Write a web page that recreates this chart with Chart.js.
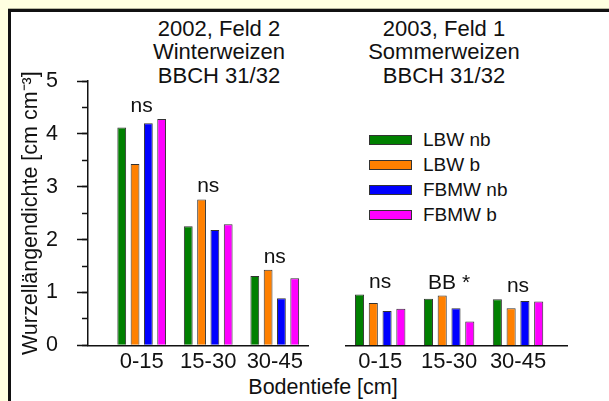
<!DOCTYPE html>
<html>
<head>
<meta charset="utf-8">
<script src="https://cdn.jsdelivr.net/npm/chart.js@4/dist/chart.umd.min.js"></script>
<style>
  html, body { margin: 0; padding: 0; background: #ffffe0; }
  body { width: 609px; height: 401px; overflow: hidden; position: relative;
         font-family: Arial, "Liberation Sans", sans-serif; color: #111; }
  #panel { position: absolute; left: 8px; top: 9px; width: 640px; height: 430px;
           background: #fff; border-left: 3px solid #111; border-top: 3px solid #111;
           box-shadow: 0 -1px 0 #b8b8a0; }
  canvas { position: absolute; left: 0; top: 0; }
  .head { position: absolute; width: 220px; text-align: center; font-size: 22px; line-height: 23.3px; }
  #xtitle { position: absolute; left: 213px; top: 375px; width: 220px; text-align: center;
            font-size: 21.5px; line-height: 24px; }
  #legend { position: absolute; left: 369px; top: 127px; font-size: 19px; }
  #legend .row { display: flex; align-items: center; height: 25px; }
  #legend .box { width: 41px; height: 8px; border: 1px solid #333; margin-right: 11px; }
</style>
</head>
<body>
<div id="panel"></div>
<div class="head" style="left:109px; top:17px">2002, Feld 2<br>Winterweizen<br>BBCH 31/32</div>
<div class="head" style="left:334px; top:17px">2003, Feld 1<br>Sommerweizen<br>BBCH 31/32</div>
<div id="xtitle">Bodentiefe [cm]</div>
<div id="legend"></div>
<canvas id="left" width="609" height="401"></canvas>
<canvas id="right" width="609" height="401"></canvas>
<script>
// soil depth classes (x categories)
const depths = ['0-15', '15-30', '30-45'];
const seriesNames = ['LBW nb', 'LBW b', 'FBMW nb', 'FBMW b'];

// root length density [cm cm-3], 2002 Feld 2, Winterweizen
const lbwNb2002 = [4.12, 2.25, 1.31];
const lbwB2002 = [3.43, 2.76, 1.43];
const fbmwNb2002 = [4.20, 2.18, 0.89];
const fbmwB2002 = [4.28, 2.29, 1.27];

// 2003 Feld 1, Sommerweizen
const lbwNb2003 = [0.96, 0.88, 0.87];
const lbwB2003 = [0.80, 0.94, 0.70];
const fbmwNb2003 = [0.65, 0.70, 0.84];
const fbmwB2003 = [0.69, 0.45, 0.83];

// significance marks above each depth group
const sig2002 = ['ns', 'ns', 'ns'];
const sig2003 = ['ns', 'BB *', 'ns'];

const colors = ['#008000', '#ff8000', '#0000ff', '#ff00ff'];
const FONT = 'Arial, "Liberation Sans", sans-serif';

Chart.defaults.font.family = FONT;
Chart.defaults.color = '#111';

function datasets(series) {
  return series.map((vals, s) => ({
    label: seriesNames[s],
    data: vals.map((v, i) => ({ x: i + 1, y: v })),
    backgroundColor: colors[s],
    borderColor: '#333',
    borderWidth: 1,
    categoryPercentage: 0.8,
    barPercentage: 0.66
  }));
}

// writes the significance text over the tallest bar of each group
const sigLabels = {
  id: 'sigLabels',
  afterDatasetsDraw(chart, args, opts) {
    const ctx = chart.ctx;
    const xs = chart.scales.x;
    ctx.save();
    ctx.font = '21px ' + FONT;
    ctx.fillStyle = '#111';
    ctx.textAlign = 'center';
    ctx.textBaseline = 'alphabetic';
    opts.labels.forEach((txt, i) => {
      let top = Infinity;
      chart.data.datasets.forEach((ds, d) => {
        const bar = chart.getDatasetMeta(d).data[i];
        if (bar) top = Math.min(top, bar.y);
      });
      ctx.fillText(txt, xs.getPixelForValue(i + 1), top - 7);
    });
    ctx.restore();
  }
};

function xAxis(min, max) {
  return {
    type: 'linear',
    min: min,
    max: max,
    offset: false,
    grid: { display: false, drawTicks: false },
    border: { display: true, color: '#111', width: 1.5 },
    afterBuildTicks: (scale) => { scale.ticks = depths.map((_, i) => ({ value: i + 1 })); },
    afterFit: (scale) => { scale.height = 30; },
    ticks: {
      padding: 3,
      font: { size: 22 },
      callback: (v) => depths[v - 1]
    }
  };
}

new Chart(document.getElementById('left'), {
  type: 'bar',
  data: { datasets: datasets([lbwNb2002, lbwB2002, fbmwNb2002, fbmwB2002]) },
  plugins: [sigLabels],
  options: {
    responsive: false,
    animation: false,
    layout: { padding: { left: 0, right: 300.3, top: 81, bottom: 25.7 } },
    plugins: {
      legend: { display: false },
      tooltip: { enabled: false },
      sigLabels: { labels: sig2002 }
    },
    scales: {
      x: xAxis(0.193, 3.51),
      y: {
        type: 'linear',
        position: 'left',
        weight: 1,
        min: 0,
        max: 5,
        afterFit: (scale) => { scale.width = 88; },
        ticks: { stepSize: 1, padding: 19, font: { size: 21.5 } },
        grid: { drawOnChartArea: false, tickLength: 11, tickColor: '#111', tickWidth: 1.5 },
        border: { color: '#111', width: 1.5 },
        title: {
          display: true,
          text: 'Wurzellängendichte [cm cm⁻³]',
          font: { size: 21.5 },
          padding: { top: 18.5, bottom: 0 }
        }
      },
      // minor ticks every 0.5
      yMinor: {
        type: 'linear',
        position: 'left',
        weight: 0,
        min: 0,
        max: 5,
        afterFit: (scale) => { scale.width = 0; },
        ticks: { stepSize: 0.5, display: false },
        grid: { drawOnChartArea: false, tickLength: 6, tickColor: '#111', tickWidth: 1.5 },
        border: { display: false }
      }
    }
  }
});

new Chart(document.getElementById('right'), {
  type: 'bar',
  data: { datasets: datasets([lbwNb2003, lbwB2003, fbmwNb2003, fbmwB2003]) },
  plugins: [sigLabels],
  options: {
    responsive: false,
    animation: false,
    layout: { padding: { left: 346, right: 41.5, top: 81, bottom: 25.7 } },
    plugins: {
      legend: { display: false },
      tooltip: { enabled: false },
      sigLabels: { labels: sig2003 }
    },
    scales: {
      x: xAxis(0.504, 3.718),
      y: { type: 'linear', display: false, min: 0, max: 5 }
    }
  }
});

// legend
const legend = document.getElementById('legend');
seriesNames.forEach((name, s) => {
  const row = document.createElement('div');
  row.className = 'row';
  const box = document.createElement('span');
  box.className = 'box';
  box.style.background = colors[s];
  const label = document.createElement('span');
  label.textContent = name;
  row.appendChild(box);
  row.appendChild(label);
  legend.appendChild(row);
});
</script>
</body>
</html>
